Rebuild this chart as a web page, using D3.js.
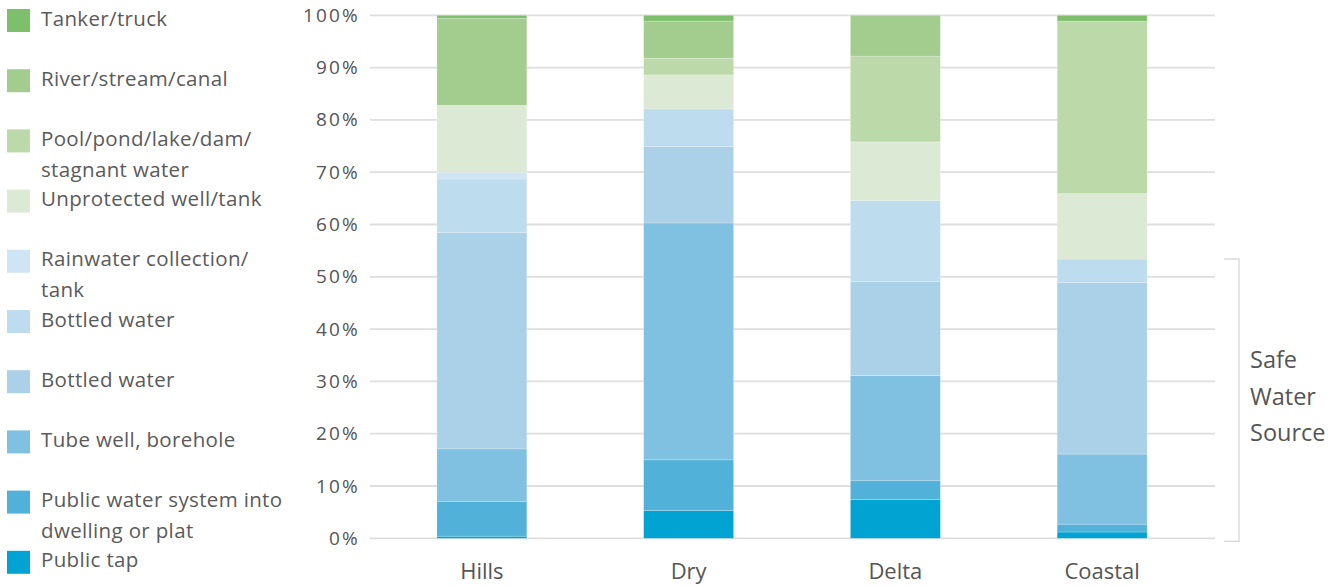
<!DOCTYPE html>
<html><head><meta charset="utf-8">
<script src="https://cdnjs.cloudflare.com/ajax/libs/d3/7.8.5/d3.min.js"></script>
<style>body{margin:0;background:#fff;} text{font-family:"Open Sans",sans-serif;}</style>
</head><body>
<svg id="chart" width="1343" height="586"></svg>
<script>
const categories = ["Hills", "Dry", "Delta", "Coastal"];
const seriesNames = ["Public tap", "Public water system into dwelling or plat", "Tube well, borehole",
  "Bottled water", "Bottled water", "Rainwater collection/ tank", "Unprotected well/tank",
  "Pool/pond/lake/dam/ stagnant water", "River/stream/canal", "Tanker/truck"];
const publicTap     = [0.4, 5.3, 7.4, 1.2];
const publicSystem  = [6.6, 9.7, 3.6, 1.5];
const tubeWell      = [10.1, 45.3, 20.1, 13.4];
const bottledLower  = [41.4, 14.6, 18.0, 32.8];
const bottledUpper  = [10.2, 7.2, 15.5, 4.5];
const rainwater     = [1.3, 0, 0, 0];
const unprotected   = [12.8, 6.5, 11.2, 12.5];
const pool          = [0, 3.2, 16.4, 33.0];
const river         = [16.6, 7.1, 7.8, 0];
const tanker        = [0.6, 1.1, 0, 1.1];
const seriesValues = [publicTap, publicSystem, tubeWell, bottledLower, bottledUpper, rainwater, unprotected, pool, river, tanker];
const colors = ["#00a3d2", "#51b1d9", "#80c1e1", "#aad1e8", "#bddcee", "#d0e5f3", "#dce9d4", "#bcdaa9", "#a3cc8f", "#7dbf6a"];
const legendLabels = [["Tanker/truck"], ["River/stream/canal"], ["Pool/pond/lake/dam/", "stagnant water"],
  ["Unprotected well/tank"], ["Rainwater collection/", "tank"], ["Bottled water"], ["Bottled water"],
  ["Tube well, borehole"], ["Public water system into", "dwelling or plat"], ["Public tap"]];
const yTicks = [0, 10, 20, 30, 40, 50, 60, 70, 80, 90, 100];
const bracketLabel = ["Safe", "Water", "Source"];
const safeTop = 53.4;

const svg = d3.select("#chart");
const y = d3.scaleLinear().domain([0, 100]).range([538.3, 15.3]);
const x = d3.scaleBand().domain(categories).range([378.5, 1205.5]).paddingInner(0.565).paddingOuter(0.2825);

// gridlines
svg.append("g").selectAll("line").data(yTicks).join("line")
  .attr("x1", 370).attr("x2", 1215)
  .attr("y1", d => y(d)).attr("y2", d => y(d))
  .attr("stroke", "#dedede").attr("stroke-width", 1.8);

// y axis labels
const yAxis = d3.axisLeft(y).tickValues(yTicks).tickFormat(d => d + "%").tickSize(0).tickPadding(0);
const ya = svg.append("g").attr("transform", "translate(360,0)").call(yAxis);
ya.select(".domain").remove();
ya.selectAll("text").attr("font-size", 19).attr("fill", "#555").attr("letter-spacing", 2.2)
  .attr("font-family", "Open Sans, sans-serif");

// stacked data
const rows = categories.map((c, i) => {
  const r = {cat: c};
  seriesValues.forEach((s, k) => r["s" + k] = s[i]);
  return r;
});
const stack = d3.stack().keys(seriesValues.map((s, k) => "s" + k));
const stacked = stack(rows);

svg.append("g").selectAll("g").data(stacked).join("g")
  .attr("fill", (d, k) => colors[k])
  .selectAll("rect").data(d => d).join("rect")
  .attr("x", d => x(d.data.cat))
  .attr("width", x.bandwidth())
  .attr("y", d => y(d[1]))
  .attr("height", d => Math.max(0, y(d[0]) - y(d[1])))
  .attr("stroke", "rgba(255,255,255,0.35)").attr("stroke-width", d => (d[1] - d[0]) > 0 ? 0.6 : 0);

// x axis labels
const xAxis = d3.axisBottom(x).tickSize(0).tickPadding(0);
const xa = svg.append("g").attr("transform", "translate(0,563)").call(xAxis);
xa.select(".domain").remove();
xa.selectAll("text").attr("font-size", 22).attr("fill", "#555").attr("font-family", "Open Sans, sans-serif");

// legend
const legend = svg.append("g");
legendLabels.forEach((lines, i) => {
  const top = 9 + i * 60.2;
  legend.append("rect").attr("x", 7).attr("y", top).attr("width", 23).attr("height", 23)
    .attr("fill", colors[colors.length - 1 - i]);
  const t = legend.append("text").attr("x", 41).attr("y", top + 16.5).attr("font-size", 20.5)
    .attr("letter-spacing", 0.35).attr("fill", "#5a5a5a");
  lines.forEach((ln, j) => t.append("tspan").attr("x", 41).attr("dy", j === 0 ? 0 : 31).text(ln));
});

// bracket
const bx = 1239;
svg.append("path")
  .attr("d", `M1224,${y(safeTop)}H${bx}V${y(0) + 3}H1224`)
  .attr("fill", "none").attr("stroke", "#dcdcdc").attr("stroke-width", 1.5);
const bt = svg.append("text").attr("x", 1250).attr("y", 368).attr("font-size", 23.5).attr("fill", "#555");
bracketLabel.forEach((ln, j) => bt.append("tspan").attr("x", 1250).attr("dy", j === 0 ? 0 : 36.5).text(ln));
</script>
</body></html>
